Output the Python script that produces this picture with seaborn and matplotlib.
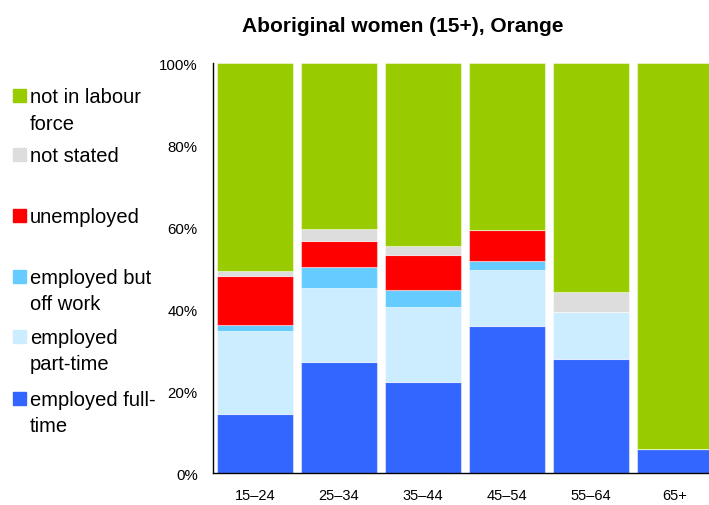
import numpy as np
import pandas as pd
import seaborn as sns
import matplotlib.pyplot as plt
from matplotlib.patches import Rectangle

# age groups and shares (%)
ages = ['15–24', '25–34', '35–44', '45–54', '55–64', '65+']
full_time = [14.4, 27.2, 22.3, 35.9, 27.8, 5.8]
part_time = [20.2, 17.9, 18.3, 13.7, 11.6, 0.0]
off_work = [1.5, 5.2, 4.0, 2.1, 0.0, 0.0]
unemployed = [12.0, 6.3, 8.7, 7.6, 0.0, 0.0]
not_stated = [1.3, 2.9, 2.1, 0.0, 4.9, 0.0]
not_in_lf = [50.6, 40.5, 44.6, 40.7, 55.7, 94.2]

series = ['employed full-time', 'employed part-time', 'employed but off work',
          'unemployed', 'not stated', 'not in labour force']
colors = ['#3366FF', '#CCECFF', '#66CCFF', '#FF0000', '#DDDDDD', '#99CC00']
legend_text = ['employed full-\ntime', 'employed\npart-time', 'employed but\noff work',
               'unemployed', 'not stated', 'not in labour\nforce']

df = pd.DataFrame({'age': ages, series[0]: full_time, series[1]: part_time,
                   series[2]: off_work, series[3]: unemployed,
                   series[4]: not_stated, series[5]: not_in_lf})

sns.set_style('white')
plt.rcParams['font.family'] = ['Liberation Sans', 'DejaVu Sans']
plt.rcParams['text.color'] = 'black'
plt.rcParams['xtick.color'] = 'black'
plt.rcParams['ytick.color'] = 'black'

fig = plt.figure(figsize=(7.09, 5.06), dpi=100)
ax = fig.add_axes([0.3004, 0.0632, 0.7109, 0.8097])

bottom = np.zeros(len(ages))
for s, c in zip(series, colors):
    sns.barplot(data=df, x='age', y=s, color=c, bottom=bottom, width=0.915,
                edgecolor=(1, 1, 1, 0.45), linewidth=0.8, ax=ax, saturation=1)
    bottom = bottom + df[s].to_numpy()

ax.set_ylim(0, 100)
ax.set_xlim(-0.5, len(ages) - 0.5)
ax.set_yticks(range(0, 101, 20))
ax.set_yticklabels([f'{v}%' for v in range(0, 101, 20)], fontsize=10.8)
ax.set_xticks(np.arange(-0.5, len(ages), 1.0))
ax.set_xticklabels([])
ax.set_xticks(range(len(ages)), minor=True)
ax.set_xticklabels(ages, minor=True, fontsize=10.5)
ax.tick_params(axis='x', which='minor', length=0, pad=11)
ax.tick_params(axis='x', which='major', direction='out', length=5, width=1, color='black')
ax.tick_params(axis='y', direction='out', length=5, width=1, color='black', pad=6)
ax.set_xlabel('')
ax.set_ylabel('')
for side in ['top', 'right']:
    ax.spines[side].set_visible(False)
for side in ['left', 'bottom']:
    ax.spines[side].set_color('black')
    ax.spines[side].set_linewidth(1)

fig.text(403 / 709, 1 - 27 / 506, 'Aboriginal women (15+), Orange',
         ha='center', va='center', fontsize=15, fontweight='bold')

# hand-placed legend on the left
W, H = 709, 506
entry_top = [400, 338, 278, 217, 156, 97]
for txt, c, yt in zip(legend_text, colors, entry_top):
    fig.patches.append(Rectangle((13 / W, 1 - (yt + 6) / H), 13 / W, 13 / H,
                                 transform=fig.transFigure, color=c))
    fig.text(30 / W, 1 - (yt - 9) / H, txt, ha='left', va='top',
             fontsize=14.5, linespacing=1.5)

fig.savefig('out.png', dpi=100)
